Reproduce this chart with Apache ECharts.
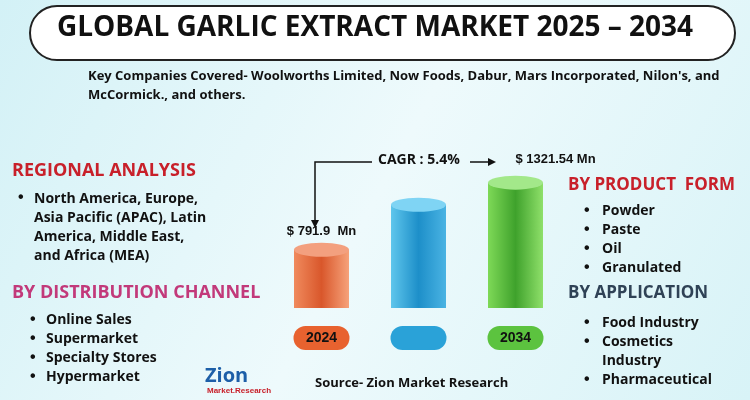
<!DOCTYPE html>
<html><head><meta charset="utf-8">
<script src="https://cdn.jsdelivr.net/npm/echarts@6/dist/echarts.min.js"></script>
<style>html,body{margin:0;padding:0}#c{width:750px;height:400px}</style>
</head><body><div id="c"></div>
<script>
const categories = ['2024', '', '2034'];
const values = [791.9, 1147, 1321.54];
const valueLabels = ['$ 791.9  Mn', '', '$ 1321.54 Mn'];
const regional = ['North America, Europe,', 'Asia Pacific (APAC), Latin', 'America, Middle East,', 'and Africa (MEA)'];
const channels = ['Online Sales', 'Supermarket', 'Specialty Stores', 'Hypermarket'];
const forms = ['Powder', 'Paste', 'Oil', 'Granulated'];
const applications = ['Food Industry', 'Cosmetics', 'Industry', 'Pharmaceutical'];
const colors = [['#f08a5d','#d9572b','#f6a27a'], ['#5fc6ec','#1d8fc9','#4ab3e3'], ['#7ed957','#3fa22c','#8fe06a']];
const tops = ['#f3a07f','#7fd4f4','#a3e88a'];

const chart = echarts.init(document.getElementById('c'));
const T = (x, y, text, style) => ({type:'text', left:x, top:y, style:Object.assign({text, font:'bold 14px "Open Sans", sans-serif', fill:'#111'}, style||{})});
const g = [];
g.push({type:'rect', shape:{x:30,y:6,width:705,height:54,r:27}, style:{fill:'#fff', stroke:'#222', lineWidth:2}});
g.push({type:'text', left:'center', top:14, style:{text:'GLOBAL GARLIC EXTRACT MARKET 2025 – 2034', font:'bold 28px "Open Sans", sans-serif', fill:'#111'}});
g.push(T(88, 70, 'Key Companies Covered- Woolworths Limited, Now Foods, Dabur, Mars Incorporated, Nilon\'s, and', {font:'bold 13px "Open Sans", sans-serif'}));
g.push(T(88, 89, 'McCormick., and others.', {font:'bold 13px "Open Sans", sans-serif'}));
g.push(T(12, 162, 'REGIONAL ANALYSIS', {font:'bold 18px "Open Sans", sans-serif', fill:'#c8202a'}));
regional.forEach((t,i)=>{ g.push(T(34, 192+i*19, t)); if(i===0) g.push(T(18,190,'•',{font:'bold 16px sans-serif'})); });
g.push(T(12, 284, 'BY DISTRIBUTION CHANNEL', {font:'bold 18px "Open Sans", sans-serif', fill:'#c2397a'}));
channels.forEach((t,i)=>{ g.push(T(30, 312+i*19, '•',{font:'bold 16px sans-serif'})); g.push(T(46, 313+i*19, t)); });
g.push(T(568, 177, 'BY PRODUCT  FORM', {font:'bold 17px "Open Sans", sans-serif', fill:'#c8202a'}));
forms.forEach((t,i)=>{ g.push(T(584, 203+i*19, '•',{font:'bold 16px sans-serif'})); g.push(T(602, 204+i*19, t)); });
g.push(T(568, 285, 'BY APPLICATION', {font:'bold 17px "Open Sans", sans-serif', fill:'#2f4256'}));
applications.forEach((t,i)=>{ if(i!==2) g.push(T(584, 315+i*19, '•',{font:'bold 16px sans-serif'})); g.push(T(602, 316+i*19, t)); });
g.push(T(378, 153, 'CAGR : 5.4%', {font:'bold 14px "Open Sans", sans-serif'}));
g.push({type:'polyline', shape:{points:[[372,162],[315,162],[315,224]]}, style:{stroke:'#111', lineWidth:1.5, fill:null}});
g.push({type:'polygon', shape:{points:[[311,220],[319,220],[315,228]]}, style:{fill:'#111'}});
g.push({type:'line', shape:{x1:470,y1:162,x2:492,y2:162}, style:{stroke:'#111', lineWidth:1.5}});
g.push({type:'polygon', shape:{points:[[488,158],[488,166],[496,162]]}, style:{fill:'#111'}});
g.push(T(205, 366, 'Zion', {font:'bold 20px "Open Sans", sans-serif', fill:'#1d5fa8'}));
g.push(T(207, 387, 'Market.Research', {font:'bold 8px sans-serif', fill:'#c8202a'}));
g.push(T(315, 377, 'Source- Zion Market Research', {font:'bold 13px "Open Sans", sans-serif'}));

const grad = c => ({type:'linear', x:0,y:0,x2:1,y2:0, colorStops:[{offset:0,color:c[0]},{offset:0.5,color:c[1]},{offset:1,color:c[2]}]});
const pill = c => ({width:56,height:24,align:'center',backgroundColor:c,borderRadius:12,color:'#111',fontWeight:'bold',fontSize:14});
chart.setOption({
  backgroundColor:{type:'linear',x:0,y:0,x2:1,y2:1,colorStops:[{offset:0,color:'#d3f1f6'},{offset:0.5,color:'#eefafc'},{offset:1,color:'#d8f3f7'}]},
  grid:{left:273, width:291, top:160, bottom:92},
  xAxis:{type:'category', data:categories, axisLine:{show:false}, axisTick:{show:false},
    axisLabel:{margin:18, formatter:(v,i)=>'{c'+i+'|'+v+'}', rich:{c0:pill('#e8622f'), c1:pill('#2aa2d8'), c2:pill('#5cc33f')}}},
  yAxis:{type:'value', min:333, max:1500, show:false},
  series:[
    {type:'bar', barWidth:55, z:2, data:values.map((v,i)=>({value:v, itemStyle:{color:grad(colors[i])},
      label:{show:!!valueLabels[i], position:'top', distance: i===2?17:12, offset: i===2?[40,0]:[0,0], formatter:valueLabels[i], color:'#111', fontWeight:'bold', fontSize:13}}))},
    {type:'pictorialBar', symbol:'circle', symbolSize:[55,14], symbolPosition:'end', symbolOffset:[0,'-50%'], z:3,
      data:values.map((v,i)=>({value:v, itemStyle:{color:tops[i]}}))}
  ],
  graphic:g
});
</script></body></html>
